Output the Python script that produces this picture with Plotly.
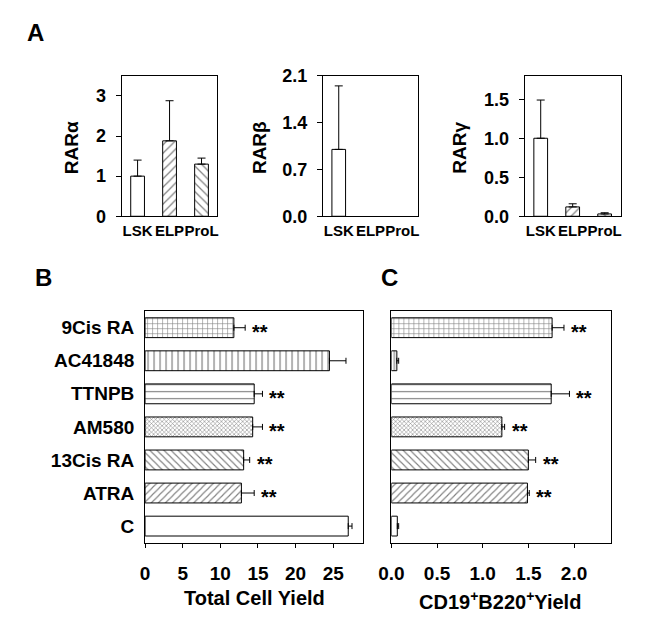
import plotly.graph_objects as go

# ---------------- data ----------------
cells = ["LSK", "ELP", "ProL"]
rar_alpha = [1.0, 1.88, 1.3]
rar_alpha_err = [0.4, 1.0, 0.15]
rar_beta = [1.0, None, None]
rar_beta_err = [0.95, None, None]
rar_gamma = [1.0, 0.12, 0.03]
rar_gamma_err = [0.49, 0.04, 0.015]

treatments = ["9Cis RA", "AC41848", "TTNPB", "AM580", "13Cis RA", "ATRA", "C"]
total_yield = [11.8, 24.5, 14.5, 14.3, 13.1, 12.8, 27.0]
total_yield_err = [1.5, 2.2, 1.1, 1.3, 0.8, 1.7, 0.5]
b_yield = [1.76, 0.06, 1.75, 1.21, 1.50, 1.49, 0.065]
b_yield_err = [0.13, 0.02, 0.20, 0.03, 0.08, 0.02, 0.015]
sig_total = ["**", "", "**", "**", "**", "**", ""]
sig_b = ["**", "", "**", "**", "**", "**", ""]

# ---------------- styling ----------------
FONT = "Liberation Sans, Arial, Helvetica, sans-serif"
W, H = 650, 633

def px_x(v):
    return v / W

def px_y(v):
    return 1 - v / H

a_shapes = ["", "/", "\\"]
a_sizes = [6, 6, 6]
t_shapes = ["+", "|", "-", "x", "\\", "/", ""]
t_sizes = [5, 6, 7, 3, 5, 5, 5]
t_solid = [0.22, 0.2, 0.16, 0.33, 0.22, 0.22, 0.2]

fig = go.Figure()

def a_bar(vals, errs, idx):
    fig.add_trace(go.Bar(
        x=cells, y=vals, width=0.43,
        xaxis="x%d" % idx, yaxis="y%d" % idx,
        marker=dict(color="white", line=dict(color="black", width=1),
                    pattern=dict(shape=a_shapes, size=a_sizes, solidity=0.2,
                                 fgcolor="black", bgcolor="white", fillmode="overlay")),
        error_y=dict(type="data", array=errs, arrayminus=[0, 0, 0], symmetric=False,
                     color="black", thickness=1, width=4),
        showlegend=False, hoverinfo="skip"))

a_bar(rar_alpha, rar_alpha_err, 1)
a_bar(rar_beta, rar_beta_err, 2)
a_bar(rar_gamma, rar_gamma_err, 3)

def t_bar(vals, errs, idx):
    fig.add_trace(go.Bar(
        y=treatments, x=vals, orientation="h", width=0.6,
        xaxis="x%d" % idx, yaxis="y%d" % idx,
        marker=dict(color="white", line=dict(color="black", width=1),
                    pattern=dict(shape=t_shapes, size=t_sizes, solidity=t_solid,
                                 fgcolor="black", bgcolor="white", fillmode="overlay")),
        error_x=dict(type="data", array=errs, arrayminus=[0] * len(errs), symmetric=False,
                     color="black", thickness=1, width=3),
        showlegend=False, hoverinfo="skip"))

t_bar(total_yield, total_yield_err, 4)
t_bar(b_yield, b_yield_err, 5)

line = dict(showline=True, linecolor="black", linewidth=1, mirror=True,
            showgrid=False, zeroline=False, fixedrange=True)
tf_a = dict(family=FONT, size=18, color="black", weight="bold")
tf_ax = dict(family=FONT, size=15, color="black", weight="bold")
tf_b = dict(family=FONT, size=19, color="black", weight="bold")

a_x_dom = [[111, 209], [316.7, 414], [523, 621]]
a_y_dom = [px_y(213), px_y(68)]
a_ranges = [[0, 3.5], [0, 2.1], [0, 1.8]]
a_ticks = [[0, 1, 2, 3], [0, 0.7, 1.4, 2.1], [0, 0.5, 1.0, 1.5]]
a_fmt = ["d", ".1f", ".1f"]

layout = dict(width=W, height=H, autosize=False,
              margin=dict(l=0, r=0, t=0, b=0),
              paper_bgcolor="white", plot_bgcolor="white",
              bargap=0.4, font=dict(family=FONT, color="black"))

for i in range(3):
    n = i + 1
    xk = "xaxis" if n == 1 else "xaxis%d" % n
    yk = "yaxis" if n == 1 else "yaxis%d" % n
    layout[xk] = dict(domain=[px_x(a_x_dom[i][0]), px_x(a_x_dom[i][1])],
                      anchor="y%d" % n if n > 1 else "y",
                      type="category", range=[-0.5, 2.5], ticks="", tickangle=0,
                      tickfont=tf_ax, ticklabelstandoff=1, **line)
    layout[yk] = dict(domain=a_y_dom, anchor="x%d" % n if n > 1 else "x",
                      range=a_ranges[i], tickvals=a_ticks[i], tickformat=a_fmt[i],
                      ticks="outside", ticklen=5, tickcolor="black",
                      tickfont=tf_a, ticklabelstandoff=6, **line)

layout["xaxis4"] = dict(domain=[px_x(135), px_x(358)], anchor="y4",
                        range=[0, 29], tickvals=[0, 5, 10, 15, 20, 25], tickangle=0,
                        ticks="outside", ticklen=4, tickcolor="black",
                        tickfont=tf_b, ticklabelstandoff=10, **line)
layout["yaxis4"] = dict(domain=[px_y(550), px_y(311)], anchor="x4",
                        type="category", range=[6.5, -0.5], ticks="",
                        tickfont=tf_b, ticklabelstandoff=6, **line)
layout["xaxis5"] = dict(domain=[px_x(386.7), px_x(610.7)], anchor="y5",
                        range=[0, 2.4], tickvals=[0, 0.5, 1.0, 1.5, 2.0], tickformat=".1f",
                        tickangle=0, ticks="outside", ticklen=4, tickcolor="black",
                        tickfont=tf_b, ticklabelstandoff=10, **line)
layout["yaxis5"] = dict(domain=[px_y(550), px_y(311)], anchor="x5",
                        type="category", range=[6.5, -0.5], ticks="",
                        showticklabels=False, **line)

ann = []
def add_text(x, y, text, size, angle=0):
    ann.append(dict(xref="paper", yref="paper", x=px_x(x), y=px_y(y), text=text,
                    showarrow=False, textangle=angle, xanchor="center", yanchor="middle",
                    font=dict(family=FONT, size=size, color="black", weight="bold")))

add_text(23, 23, "A", 24)
add_text(31, 276, "B", 24)
add_text(385, 276, "C", 24)
add_text(60, 142, "RARα", 19, -90)
add_text(252, 142, "RARβ", 19, -90)
add_text(456, 142, "RARγ", 19, -90)
add_text(247, 607, "Total Cell Yield", 20)
add_text(498, 610, "CD19<sup>+</sup>B220<sup>+</sup>Yield", 20)

for vals, errs, sig, xr, yr in [(total_yield, total_yield_err, sig_total, "x4", "y4"),
                                (b_yield, b_yield_err, sig_b, "x5", "y5")]:
    for cat, v, e, s in zip(treatments, vals, errs, sig):
        if s:
            ann.append(dict(xref=xr, yref=yr, x=v + e, y=cat, text=s, showarrow=False,
                            xanchor="left", yanchor="middle", xshift=5, yshift=-4,
                            font=dict(family=FONT, size=20, color="black", weight="bold")))

layout["annotations"] = ann
fig.update_layout(**layout)
fig.write_html("out.html", config={"displayModeBar": False},
               post_script="document.body.style.margin='0';document.body.style.overflow='hidden';")
